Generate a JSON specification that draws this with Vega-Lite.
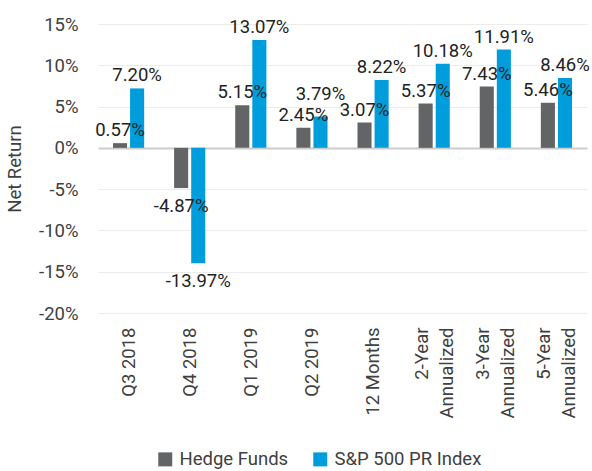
{
  "$schema": "https://vega.github.io/schema/vega-lite/v6.json",
  "width": 489,
  "height": 289,
  "autosize": {"type": "none"},
  "padding": {"left": 98, "top": 24, "right": 5, "bottom": 158},
  "background": "white",
  "config": {
    "view": {"stroke": null},
    "font": "Roboto",
    "locale": {"number": {"decimal": ".", "thousands": ",", "grouping": [3], "currency": ["$", ""], "minus": "-"}}
  },
  "data": {
    "values": [
      {"period": "Q3 2018", "series": "Hedge Funds", "value": 0.0057},
      {"period": "Q3 2018", "series": "S&P 500 PR Index", "value": 0.072},
      {"period": "Q4 2018", "series": "Hedge Funds", "value": -0.0487},
      {"period": "Q4 2018", "series": "S&P 500 PR Index", "value": -0.1397},
      {"period": "Q1 2019", "series": "Hedge Funds", "value": 0.0515},
      {"period": "Q1 2019", "series": "S&P 500 PR Index", "value": 0.1307},
      {"period": "Q2 2019", "series": "Hedge Funds", "value": 0.0245},
      {"period": "Q2 2019", "series": "S&P 500 PR Index", "value": 0.0379},
      {"period": "12 Months", "series": "Hedge Funds", "value": 0.0307},
      {"period": "12 Months", "series": "S&P 500 PR Index", "value": 0.0822},
      {"period": "2-Year Annualized", "series": "Hedge Funds", "value": 0.0537},
      {"period": "2-Year Annualized", "series": "S&P 500 PR Index", "value": 0.1018},
      {"period": "3-Year Annualized", "series": "Hedge Funds", "value": 0.0743},
      {"period": "3-Year Annualized", "series": "S&P 500 PR Index", "value": 0.1191},
      {"period": "5-Year Annualized", "series": "Hedge Funds", "value": 0.0546},
      {"period": "5-Year Annualized", "series": "S&P 500 PR Index", "value": 0.0846}
    ]
  },
  "encoding": {
    "x": {
      "field": "period",
      "type": "nominal",
      "sort": null,
      "scale": {"paddingInner": 0.49, "paddingOuter": 0.245},
      "axis": {
        "title": null,
        "labelAngle": -90,
        "labelAlign": "right",
        "labelBaseline": "middle",
        "labelFontSize": 18.5,
        "labelColor": "#404040",
        "labelLineHeight": 25,
        "labelPadding": 14,
        "labelOffset": {"condition": {"test": "indexof(datum.value, ' Annualized') > 0", "value": -12.5}, "value": 0},
        "ticks": false,
        "domain": false,
        "labelExpr": "indexof(datum.label, ' Annualized') > 0 ? [replace(datum.label, ' Annualized', ''), 'Annualized'] : datum.label"
      }
    },
    "xOffset": {
      "field": "series",
      "type": "nominal",
      "scale": {"paddingInner": 0.176}
    },
    "y": {
      "field": "value",
      "type": "quantitative",
      "scale": {"domain": [-0.2, 0.15], "nice": false},
      "axis": {
        "title": "Net Return",
        "titleFontSize": 18.5,
        "titleFontWeight": "normal",
        "titleColor": "#404040",
        "titlePadding": 14,
        "format": ".0%",
        "values": [-0.2, -0.15, -0.1, -0.05, 0, 0.05, 0.1, 0.15],
        "labelFontSize": 18.5,
        "labelColor": "#404040",
        "labelPadding": 20,
        "ticks": false,
        "domain": false,
        "gridColor": {"condition": {"test": "datum.value === 0", "value": "#cccccc"}, "value": "#ececec"},
        "gridWidth": {"condition": {"test": "datum.value === 0", "value": 2}, "value": 1}
      }
    }
  },
  "layer": [
    {
      "mark": {"type": "bar"},
      "encoding": {
        "color": {
          "field": "series",
          "type": "nominal",
          "scale": {"domain": ["Hedge Funds", "S&P 500 PR Index"], "range": ["#636466", "#009ddc"]},
          "legend": {
            "title": null,
            "orient": "none",
            "legendX": 58,
            "legendY": 426,
            "direction": "horizontal",
            "symbolType": "square",
            "symbolSize": 196,
            "symbolStrokeWidth": 0,
            "labelFontSize": 18.5,
            "labelColor": "#404040",
            "columnPadding": 22,
            "labelOffset": 5
          }
        }
      }
    },
    {
      "transform": [{"filter": "datum.value >= 0 && !(datum.period === 'Q2 2019' && datum.series === 'S&P 500 PR Index')"}],
      "mark": {"type": "text", "baseline": "alphabetic", "dy": -7, "fontSize": 18.5, "color": "#222222"},
      "encoding": {"text": {"field": "value", "type": "quantitative", "format": ".2%"}}
    },
    {
      "transform": [{"filter": "datum.period === 'Q2 2019' && datum.series === 'S&P 500 PR Index'"}],
      "mark": {"type": "text", "baseline": "alphabetic", "dy": -17, "fontSize": 18.5, "color": "#222222"},
      "encoding": {"text": {"field": "value", "type": "quantitative", "format": ".2%"}}
    },
    {
      "transform": [{"filter": "datum.value < 0"}],
      "mark": {"type": "text", "baseline": "top", "dy": 9, "fontSize": 18.5, "color": "#222222"},
      "encoding": {"text": {"field": "value", "type": "quantitative", "format": ".2%"}}
    }
  ]
}
